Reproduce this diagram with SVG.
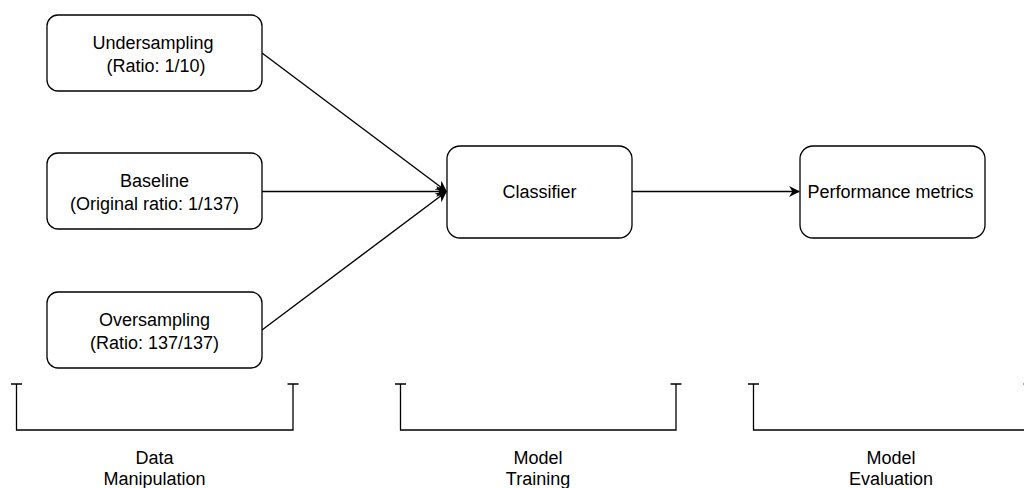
<svg xmlns="http://www.w3.org/2000/svg" width="1024" height="488" viewBox="0 0 1024 488">
<style>
.box{fill:#fff;stroke:#000;stroke-width:1.3}
.t{font-family:"Liberation Sans",Arial,sans-serif;font-size:18px;fill:#000;text-anchor:middle}
.e{fill:none;stroke:#000;stroke-width:1.4}
.br{fill:none;stroke:#000;stroke-width:1.3}
</style>
<defs>
<marker id="ah" viewBox="0 0 10 10" refX="9" refY="5" markerWidth="11" markerHeight="11" markerUnits="userSpaceOnUse" orient="auto">
<path d="M0,0 L10,5 L0,10 L3,5 Z" fill="#000"/>
</marker>
</defs>
<rect width="1024" height="488" fill="#fff"/>
<g id="connectors">
<line class="e" x1="262" y1="53" x2="446" y2="191" marker-end="url(#ah)"/>
<line class="e" x1="262" y1="191.5" x2="446" y2="191.5" marker-end="url(#ah)"/>
<line class="e" x1="262" y1="330" x2="446" y2="192" marker-end="url(#ah)"/>
<line class="e" x1="632" y1="191.5" x2="799" y2="191.5" marker-end="url(#ah)"/>
</g>
<g id="undersampling">
<rect class="box" x="47" y="15" width="215" height="76" rx="11"/>
<text class="t" x="153" y="49">Undersampling</text>
<text class="t" x="156" y="72">(Ratio: 1/10)</text>
</g>
<g id="baseline">
<rect class="box" x="47" y="153" width="215" height="76" rx="11"/>
<text class="t" x="154.5" y="187">Baseline</text>
<text class="t" x="154.5" y="210">(Original ratio: 1/137)</text>
</g>
<g id="oversampling">
<rect class="box" x="47" y="292" width="215" height="76" rx="11"/>
<text class="t" x="154.5" y="326">Oversampling</text>
<text class="t" x="154.5" y="349">(Ratio: 137/137)</text>
</g>
<g id="classifier">
<rect class="box" x="447" y="146" width="185" height="92" rx="13"/>
<text class="t" x="539.5" y="198">Classifier</text>
</g>
<g id="performance">
<rect class="box" x="800" y="146" width="185" height="92" rx="13"/>
<text class="t" x="890.5" y="198">Performance metrics</text>
</g>
<g id="data-manipulation">
<path class="br" d="M11,384 H22 M16.5,384 V430 H293 V384 M287.5,384 H298.5"/>
<text class="t" x="154.5" y="464">Data</text>
<text class="t" x="154.5" y="485">Manipulation</text>
</g>
<g id="model-training">
<path class="br" d="M395,384 H406 M400.5,384 V430 H676 V384 M670.5,384 H681.5"/>
<text class="t" x="538" y="464">Model</text>
<text class="t" x="538" y="485">Training</text>
</g>
<g id="model-evaluation">
<path class="br" d="M748,384 H759 M753.5,384 V430 H1029 V384 M1023.5,384 H1034.5"/>
<text class="t" x="891" y="464">Model</text>
<text class="t" x="891" y="485">Evaluation</text>
</g>
</svg>
